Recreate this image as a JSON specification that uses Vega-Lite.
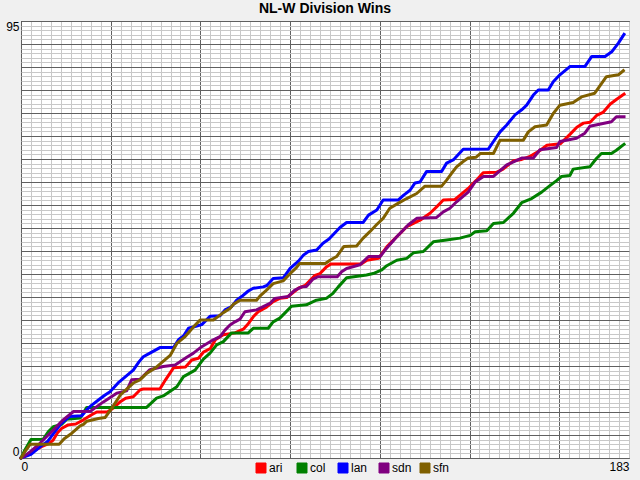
{
  "$schema": "https://vega.github.io/schema/vega-lite/v6.json",
  "width": 608,
  "height": 437,
  "autosize": "none",
  "padding": {"left": 21, "top": 21, "right": 11, "bottom": 22},
  "background": "#f0f0f0",
  "title": {"text": "NL-W Division Wins", "fontSize": 14, "font": "Liberation Sans", "fontWeight": "bold", "color": "#000000", "offset": 4, "anchor": "middle"},
  "data": {
    "values": [
      {"team": "ari", "day": 0, "wins": 0}, {"team": "ari", "day": 3, "wins": 1.2}, {"team": "ari", "day": 6, "wins": 2.4}, {"team": "ari", "day": 8.5, "wins": 3.2}, {"team": "ari", "day": 9.7, "wins": 3.9}, {"team": "ari", "day": 11, "wins": 5.5}, {"team": "ari", "day": 12.2, "wins": 6.4}, {"team": "ari", "day": 14.2, "wins": 7.2}, {"team": "ari", "day": 16.5, "wins": 7.4}, {"team": "ari", "day": 18.8, "wins": 8.3}, {"team": "ari", "day": 21, "wins": 9.3}, {"team": "ari", "day": 22.8, "wins": 10}, {"team": "ari", "day": 26, "wins": 10}, {"team": "ari", "day": 28, "wins": 11}, {"team": "ari", "day": 30, "wins": 12.3}, {"team": "ari", "day": 31.5, "wins": 13}, {"team": "ari", "day": 33.8, "wins": 13.3}, {"team": "ari", "day": 35.8, "wins": 14.8}, {"team": "ari", "day": 36.8, "wins": 15}, {"team": "ari", "day": 41.8, "wins": 15}, {"team": "ari", "day": 43.5, "wins": 17}, {"team": "ari", "day": 45.9, "wins": 19.6}, {"team": "ari", "day": 49.5, "wins": 19.8}, {"team": "ari", "day": 51.4, "wins": 21.3}, {"team": "ari", "day": 53.4, "wins": 21.7}, {"team": "ari", "day": 54.9, "wins": 23}, {"team": "ari", "day": 57, "wins": 23.8}, {"team": "ari", "day": 58.5, "wins": 25.7}, {"team": "ari", "day": 60.9, "wins": 26.8}, {"team": "ari", "day": 64.4, "wins": 27.2}, {"team": "ari", "day": 66.9, "wins": 28}, {"team": "ari", "day": 68.4, "wins": 29.2}, {"team": "ari", "day": 69.9, "wins": 30.7}, {"team": "ari", "day": 71.4, "wins": 31.8}, {"team": "ari", "day": 73.9, "wins": 32.8}, {"team": "ari", "day": 75.9, "wins": 34}, {"team": "ari", "day": 77.9, "wins": 34.7}, {"team": "ari", "day": 80, "wins": 34.9}, {"team": "ari", "day": 83.5, "wins": 36.9}, {"team": "ari", "day": 85.5, "wins": 37.5}, {"team": "ari", "day": 88.5, "wins": 39.7}, {"team": "ari", "day": 90, "wins": 40.1}, {"team": "ari", "day": 92, "wins": 41.6}, {"team": "ari", "day": 93.3, "wins": 42.2}, {"team": "ari", "day": 102.5, "wins": 42.2}, {"team": "ari", "day": 104.1, "wins": 43}, {"team": "ari", "day": 107.6, "wins": 43.4}, {"team": "ari", "day": 110.1, "wins": 45.9}, {"team": "ari", "day": 112.1, "wins": 47.4}, {"team": "ari", "day": 114.1, "wins": 48.8}, {"team": "ari", "day": 116.1, "wins": 50.3}, {"team": "ari", "day": 118.1, "wins": 51}, {"team": "ari", "day": 120.1, "wins": 51.7}, {"team": "ari", "day": 123.1, "wins": 53.2}, {"team": "ari", "day": 125.1, "wins": 54.6}, {"team": "ari", "day": 127.1, "wins": 56.1}, {"team": "ari", "day": 130.6, "wins": 56.2}, {"team": "ari", "day": 132.1, "wins": 57.1}, {"team": "ari", "day": 134.6, "wins": 58.6}, {"team": "ari", "day": 137.1, "wins": 60.4}, {"team": "ari", "day": 139.1, "wins": 62}, {"team": "ari", "day": 143.1, "wins": 62.1}, {"team": "ari", "day": 145.1, "wins": 62.8}, {"team": "ari", "day": 148.2, "wins": 64.6}, {"team": "ari", "day": 150.7, "wins": 64.9}, {"team": "ari", "day": 153, "wins": 65.5}, {"team": "ari", "day": 156.3, "wins": 66.9}, {"team": "ari", "day": 158.3, "wins": 68}, {"team": "ari", "day": 162.3, "wins": 68.3}, {"team": "ari", "day": 165.3, "wins": 70.4}, {"team": "ari", "day": 167.3, "wins": 71.9}, {"team": "ari", "day": 169.3, "wins": 72.8}, {"team": "ari", "day": 171.3, "wins": 73}, {"team": "ari", "day": 173.3, "wins": 74.5}, {"team": "ari", "day": 175.3, "wins": 75.2}, {"team": "ari", "day": 177.3, "wins": 76.9}, {"team": "ari", "day": 179.3, "wins": 78}, {"team": "ari", "day": 181.5, "wins": 79.1},
      {"team": "col", "day": 0, "wins": 0}, {"team": "col", "day": 1, "wins": 1.5}, {"team": "col", "day": 3, "wins": 4}, {"team": "col", "day": 6.7, "wins": 4.1}, {"team": "col", "day": 8.2, "wins": 5.7}, {"team": "col", "day": 9.7, "wins": 6.8}, {"team": "col", "day": 12.2, "wins": 7.3}, {"team": "col", "day": 13.7, "wins": 8.4}, {"team": "col", "day": 17.8, "wins": 8.7}, {"team": "col", "day": 19.8, "wins": 11}, {"team": "col", "day": 37.8, "wins": 11}, {"team": "col", "day": 40.8, "wins": 13}, {"team": "col", "day": 42.8, "wins": 13.5}, {"team": "col", "day": 46.9, "wins": 15.5}, {"team": "col", "day": 48.9, "wins": 17.7}, {"team": "col", "day": 50.4, "wins": 18.3}, {"team": "col", "day": 52.4, "wins": 19.1}, {"team": "col", "day": 54.9, "wins": 21.5}, {"team": "col", "day": 56.9, "wins": 22.8}, {"team": "col", "day": 58.9, "wins": 24.6}, {"team": "col", "day": 60.9, "wins": 25.3}, {"team": "col", "day": 63.4, "wins": 27.2}, {"team": "col", "day": 68.4, "wins": 27.2}, {"team": "col", "day": 69.9, "wins": 28.2}, {"team": "col", "day": 74.4, "wins": 28.2}, {"team": "col", "day": 75.9, "wins": 29.6}, {"team": "col", "day": 77.9, "wins": 30.4}, {"team": "col", "day": 79.4, "wins": 31.5}, {"team": "col", "day": 81.4, "wins": 33}, {"team": "col", "day": 85.9, "wins": 33.3}, {"team": "col", "day": 88.9, "wins": 34.3}, {"team": "col", "day": 91.9, "wins": 34.7}, {"team": "col", "day": 93.9, "wins": 35.8}, {"team": "col", "day": 95.5, "wins": 37.2}, {"team": "col", "day": 98, "wins": 39.2}, {"team": "col", "day": 104, "wins": 39.8}, {"team": "col", "day": 106, "wins": 40.1}, {"team": "col", "day": 108.6, "wins": 40.9}, {"team": "col", "day": 110.1, "wins": 41.8}, {"team": "col", "day": 113.1, "wins": 43}, {"team": "col", "day": 116.1, "wins": 43.4}, {"team": "col", "day": 118.1, "wins": 44.6}, {"team": "col", "day": 121.1, "wins": 44.9}, {"team": "col", "day": 124.1, "wins": 47}, {"team": "col", "day": 128.1, "wins": 47.4}, {"team": "col", "day": 132.1, "wins": 47.8}, {"team": "col", "day": 135.2, "wins": 48.4}, {"team": "col", "day": 136.7, "wins": 49.2}, {"team": "col", "day": 140.2, "wins": 49.4}, {"team": "col", "day": 142.2, "wins": 51}, {"team": "col", "day": 145.2, "wins": 51.2}, {"team": "col", "day": 148.2, "wins": 53.2}, {"team": "col", "day": 150.7, "wins": 55.5}, {"team": "col", "day": 153.7, "wins": 56.4}, {"team": "col", "day": 156.7, "wins": 57.8}, {"team": "col", "day": 159.2, "wins": 59.2}, {"team": "col", "day": 161.2, "wins": 60.3}, {"team": "col", "day": 162.7, "wins": 61.2}, {"team": "col", "day": 165.2, "wins": 61.4}, {"team": "col", "day": 166.2, "wins": 62.8}, {"team": "col", "day": 171.2, "wins": 63.3}, {"team": "col", "day": 173.2, "wins": 65.1}, {"team": "col", "day": 174.7, "wins": 66.2}, {"team": "col", "day": 177.7, "wins": 66.2}, {"team": "col", "day": 179.2, "wins": 66.9}, {"team": "col", "day": 181.5, "wins": 68.2},
      {"team": "lan", "day": 0, "wins": 0}, {"team": "lan", "day": 3, "wins": 0.8}, {"team": "lan", "day": 6, "wins": 2.6}, {"team": "lan", "day": 8, "wins": 3.6}, {"team": "lan", "day": 10, "wins": 5.5}, {"team": "lan", "day": 12, "wins": 7.4}, {"team": "lan", "day": 14.5, "wins": 9}, {"team": "lan", "day": 18.3, "wins": 9.2}, {"team": "lan", "day": 19.8, "wins": 10.5}, {"team": "lan", "day": 21.3, "wins": 11.5}, {"team": "lan", "day": 23.3, "wins": 12.6}, {"team": "lan", "day": 25.3, "wins": 13.7}, {"team": "lan", "day": 26.8, "wins": 14.4}, {"team": "lan", "day": 29.5, "wins": 16.5}, {"team": "lan", "day": 32.8, "wins": 18.5}, {"team": "lan", "day": 33.8, "wins": 19.1}, {"team": "lan", "day": 35.5, "wins": 20.9}, {"team": "lan", "day": 36.8, "wins": 22}, {"team": "lan", "day": 38.8, "wins": 22.8}, {"team": "lan", "day": 41.8, "wins": 24}, {"team": "lan", "day": 45.9, "wins": 24}, {"team": "lan", "day": 47.4, "wins": 25.7}, {"team": "lan", "day": 49, "wins": 26.6}, {"team": "lan", "day": 50.4, "wins": 28.2}, {"team": "lan", "day": 52.4, "wins": 28.6}, {"team": "lan", "day": 54.4, "wins": 29}, {"team": "lan", "day": 56.9, "wins": 30.8}, {"team": "lan", "day": 59.9, "wins": 30.9}, {"team": "lan", "day": 61.4, "wins": 32.2}, {"team": "lan", "day": 63.4, "wins": 32.9}, {"team": "lan", "day": 64.9, "wins": 34.3}, {"team": "lan", "day": 66.4, "wins": 35.1}, {"team": "lan", "day": 68.4, "wins": 36.3}, {"team": "lan", "day": 69.9, "wins": 36.9}, {"team": "lan", "day": 72.9, "wins": 37.2}, {"team": "lan", "day": 74, "wins": 37.5}, {"team": "lan", "day": 75.9, "wins": 39}, {"team": "lan", "day": 79, "wins": 39.2}, {"team": "lan", "day": 81, "wins": 41.2}, {"team": "lan", "day": 83.5, "wins": 42.8}, {"team": "lan", "day": 85, "wins": 44.1}, {"team": "lan", "day": 86.5, "wins": 44.9}, {"team": "lan", "day": 89, "wins": 45.2}, {"team": "lan", "day": 90.9, "wins": 46.7}, {"team": "lan", "day": 92.7, "wins": 47.6}, {"team": "lan", "day": 94, "wins": 48.6}, {"team": "lan", "day": 96, "wins": 50.1}, {"team": "lan", "day": 98, "wins": 51.2}, {"team": "lan", "day": 103, "wins": 51.2}, {"team": "lan", "day": 104.6, "wins": 52.8}, {"team": "lan", "day": 107.1, "wins": 53.9}, {"team": "lan", "day": 109, "wins": 56.1}, {"team": "lan", "day": 113.6, "wins": 56.1}, {"team": "lan", "day": 115.1, "wins": 57.1}, {"team": "lan", "day": 117.1, "wins": 58.2}, {"team": "lan", "day": 118.6, "wins": 59.8}, {"team": "lan", "day": 120.1, "wins": 60}, {"team": "lan", "day": 122.1, "wins": 62.3}, {"team": "lan", "day": 126.6, "wins": 62.3}, {"team": "lan", "day": 128.1, "wins": 64.1}, {"team": "lan", "day": 130.1, "wins": 64.8}, {"team": "lan", "day": 133.1, "wins": 67.1}, {"team": "lan", "day": 140.7, "wins": 67.2}, {"team": "lan", "day": 142.2, "wins": 68.8}, {"team": "lan", "day": 144.2, "wins": 70.9}, {"team": "lan", "day": 146.2, "wins": 72.4}, {"team": "lan", "day": 148.7, "wins": 74.6}, {"team": "lan", "day": 150.7, "wins": 75.7}, {"team": "lan", "day": 152.2, "wins": 76.7}, {"team": "lan", "day": 154.2, "wins": 78.9}, {"team": "lan", "day": 155.7, "wins": 80}, {"team": "lan", "day": 158.7, "wins": 80}, {"team": "lan", "day": 160.2, "wins": 81.8}, {"team": "lan", "day": 162.2, "wins": 83.3}, {"team": "lan", "day": 165.2, "wins": 85.1}, {"team": "lan", "day": 169.7, "wins": 85.1}, {"team": "lan", "day": 171.8, "wins": 87.3}, {"team": "lan", "day": 175.8, "wins": 87.3}, {"team": "lan", "day": 177.8, "wins": 88.3}, {"team": "lan", "day": 179.8, "wins": 90.2}, {"team": "lan", "day": 181.5, "wins": 92.1},
      {"team": "sdn", "day": 0, "wins": 0}, {"team": "sdn", "day": 1, "wins": 0.4}, {"team": "sdn", "day": 3, "wins": 1.5}, {"team": "sdn", "day": 5.7, "wins": 3.2}, {"team": "sdn", "day": 9.7, "wins": 6.1}, {"team": "sdn", "day": 12.7, "wins": 8.3}, {"team": "sdn", "day": 15.8, "wins": 10.1}, {"team": "sdn", "day": 20.8, "wins": 10.1}, {"team": "sdn", "day": 22.5, "wins": 11}, {"team": "sdn", "day": 24.8, "wins": 12.2}, {"team": "sdn", "day": 28.8, "wins": 14.1}, {"team": "sdn", "day": 31.8, "wins": 14.6}, {"team": "sdn", "day": 33.3, "wins": 17}, {"team": "sdn", "day": 35.8, "wins": 17.1}, {"team": "sdn", "day": 38.8, "wins": 19.2}, {"team": "sdn", "day": 42.8, "wins": 19.9}, {"team": "sdn", "day": 46.4, "wins": 20.2}, {"team": "sdn", "day": 49.9, "wins": 21.9}, {"team": "sdn", "day": 51.9, "wins": 22.8}, {"team": "sdn", "day": 54.4, "wins": 24.2}, {"team": "sdn", "day": 57.9, "wins": 25.7}, {"team": "sdn", "day": 59.9, "wins": 26.4}, {"team": "sdn", "day": 61.4, "wins": 27.8}, {"team": "sdn", "day": 62.9, "wins": 28.9}, {"team": "sdn", "day": 64.4, "wins": 29.6}, {"team": "sdn", "day": 65.9, "wins": 30.2}, {"team": "sdn", "day": 67.4, "wins": 31.8}, {"team": "sdn", "day": 70.9, "wins": 32.2}, {"team": "sdn", "day": 72.9, "wins": 32.9}, {"team": "sdn", "day": 74.9, "wins": 33.6}, {"team": "sdn", "day": 76.4, "wins": 34.7}, {"team": "sdn", "day": 80.4, "wins": 35.1}, {"team": "sdn", "day": 82.4, "wins": 36.5}, {"team": "sdn", "day": 84.5, "wins": 37.2}, {"team": "sdn", "day": 85.9, "wins": 37.3}, {"team": "sdn", "day": 87.9, "wins": 38.9}, {"team": "sdn", "day": 89.4, "wins": 39.4}, {"team": "sdn", "day": 95.2, "wins": 39.4}, {"team": "sdn", "day": 96.5, "wins": 40.5}, {"team": "sdn", "day": 98, "wins": 41.2}, {"team": "sdn", "day": 102, "wins": 42}, {"team": "sdn", "day": 104.6, "wins": 43.8}, {"team": "sdn", "day": 108.1, "wins": 43.8}, {"team": "sdn", "day": 109.6, "wins": 45.2}, {"team": "sdn", "day": 113.1, "wins": 48.1}, {"team": "sdn", "day": 116.6, "wins": 50.7}, {"team": "sdn", "day": 119.1, "wins": 52.1}, {"team": "sdn", "day": 125.1, "wins": 52.3}, {"team": "sdn", "day": 127.1, "wins": 53.5}, {"team": "sdn", "day": 129.1, "wins": 54.3}, {"team": "sdn", "day": 131.1, "wins": 55.7}, {"team": "sdn", "day": 134.6, "wins": 57.8}, {"team": "sdn", "day": 136.7, "wins": 60}, {"team": "sdn", "day": 139.2, "wins": 61.2}, {"team": "sdn", "day": 142.2, "wins": 61.2}, {"team": "sdn", "day": 146.2, "wins": 63.7}, {"team": "sdn", "day": 150.7, "wins": 65.2}, {"team": "sdn", "day": 154.2, "wins": 65.2}, {"team": "sdn", "day": 156.2, "wins": 67}, {"team": "sdn", "day": 161.2, "wins": 67.5}, {"team": "sdn", "day": 162.2, "wins": 68.8}, {"team": "sdn", "day": 167.2, "wins": 69.5}, {"team": "sdn", "day": 169.7, "wins": 70.6}, {"team": "sdn", "day": 171.2, "wins": 72.1}, {"team": "sdn", "day": 177.7, "wins": 73.1}, {"team": "sdn", "day": 179.2, "wins": 74.2}, {"team": "sdn", "day": 181.5, "wins": 74.2},
      {"team": "sfn", "day": 0, "wins": 0}, {"team": "sfn", "day": 1.2, "wins": 1.4}, {"team": "sfn", "day": 2.8, "wins": 3}, {"team": "sfn", "day": 11.5, "wins": 3}, {"team": "sfn", "day": 13, "wins": 4.2}, {"team": "sfn", "day": 15.3, "wins": 5.4}, {"team": "sfn", "day": 17.8, "wins": 7}, {"team": "sfn", "day": 18.8, "wins": 7.3}, {"team": "sfn", "day": 19.8, "wins": 8}, {"team": "sfn", "day": 23.3, "wins": 8.6}, {"team": "sfn", "day": 25.3, "wins": 8.8}, {"team": "sfn", "day": 27.3, "wins": 10.8}, {"team": "sfn", "day": 30, "wins": 13.8}, {"team": "sfn", "day": 33.8, "wins": 16.3}, {"team": "sfn", "day": 35.8, "wins": 17}, {"team": "sfn", "day": 37.8, "wins": 18.4}, {"team": "sfn", "day": 40.3, "wins": 19.5}, {"team": "sfn", "day": 41.8, "wins": 20.4}, {"team": "sfn", "day": 44.9, "wins": 22.3}, {"team": "sfn", "day": 46.9, "wins": 24.9}, {"team": "sfn", "day": 49.4, "wins": 26.4}, {"team": "sfn", "day": 51.9, "wins": 28.5}, {"team": "sfn", "day": 53.9, "wins": 30}, {"team": "sfn", "day": 57.9, "wins": 30}, {"team": "sfn", "day": 60.9, "wins": 31.6}, {"team": "sfn", "day": 62.9, "wins": 32.5}, {"team": "sfn", "day": 63.9, "wins": 33.4}, {"team": "sfn", "day": 65.9, "wins": 34.3}, {"team": "sfn", "day": 70.9, "wins": 34.3}, {"team": "sfn", "day": 71.9, "wins": 35.2}, {"team": "sfn", "day": 73.9, "wins": 36.5}, {"team": "sfn", "day": 75.9, "wins": 37.9}, {"team": "sfn", "day": 78.9, "wins": 38.5}, {"team": "sfn", "day": 80.9, "wins": 40}, {"team": "sfn", "day": 82.9, "wins": 41.4}, {"team": "sfn", "day": 83.9, "wins": 42.3}, {"team": "sfn", "day": 91.6, "wins": 42.3}, {"team": "sfn", "day": 93, "wins": 43}, {"team": "sfn", "day": 95, "wins": 43.8}, {"team": "sfn", "day": 97.2, "wins": 46}, {"team": "sfn", "day": 101, "wins": 46.1}, {"team": "sfn", "day": 103, "wins": 47.8}, {"team": "sfn", "day": 105, "wins": 49.2}, {"team": "sfn", "day": 107, "wins": 50.7}, {"team": "sfn", "day": 109, "wins": 52.1}, {"team": "sfn", "day": 111, "wins": 54.3}, {"team": "sfn", "day": 113.6, "wins": 55.4}, {"team": "sfn", "day": 116.1, "wins": 56.4}, {"team": "sfn", "day": 119.1, "wins": 57.5}, {"team": "sfn", "day": 121.6, "wins": 59.1}, {"team": "sfn", "day": 126.6, "wins": 59.1}, {"team": "sfn", "day": 128.1, "wins": 60.4}, {"team": "sfn", "day": 129.6, "wins": 61.9}, {"team": "sfn", "day": 131.1, "wins": 63.3}, {"team": "sfn", "day": 133, "wins": 64.4}, {"team": "sfn", "day": 134.6, "wins": 65.2}, {"team": "sfn", "day": 137, "wins": 65.4}, {"team": "sfn", "day": 138.3, "wins": 66.2}, {"team": "sfn", "day": 142.2, "wins": 66.2}, {"team": "sfn", "day": 144.2, "wins": 69.1}, {"team": "sfn", "day": 151.2, "wins": 69.1}, {"team": "sfn", "day": 152.7, "wins": 70.9}, {"team": "sfn", "day": 154.7, "wins": 72}, {"team": "sfn", "day": 158.2, "wins": 72.4}, {"team": "sfn", "day": 160.2, "wins": 74.9}, {"team": "sfn", "day": 162.2, "wins": 76.7}, {"team": "sfn", "day": 166.2, "wins": 77.3}, {"team": "sfn", "day": 168.7, "wins": 78.5}, {"team": "sfn", "day": 172.7, "wins": 79.3}, {"team": "sfn", "day": 176.2, "wins": 82.9}, {"team": "sfn", "day": 179.8, "wins": 83.3}, {"team": "sfn", "day": 181.3, "wins": 84.2}
    ]
  },
  "mark": {"type": "line", "strokeWidth": 3, "strokeJoin": "round", "strokeCap": "square"},
  "encoding": {
    "x": {
      "field": "day",
      "type": "quantitative",
      "scale": {"domain": [0, 183], "nice": false, "zero": false},
      "axis": {
        "title": null,
        "values": [0, 3, 6, 9, 12, 15, 18, 21, 24, 27, 30, 33, 36, 39, 42, 45, 48, 51, 54, 57, 60, 63, 66, 69, 72, 75, 78, 81, 84, 87, 90, 93, 96, 99, 102, 105, 108, 111, 114, 117, 120, 123, 126, 129, 132, 135, 138, 141, 144, 147, 150, 153, 156, 159, 162, 165, 168, 171, 174, 177, 180, 183],
        "domain": false,
        "ticks": false,
        "labelPadding": 3,
        "labelFontSize": 12,
        "labelColor": "#000000",
        "labelFlush": true,
        "labelOverlap": false,
        "labelExpr": "datum.value == 0 || datum.value == 183 ? datum.label : ''",
        "grid": true,
        "gridOpacity": 1,
        "gridWidth": 1,
        "gridColor": {"condition": {"test": "datum.value % 27 === 0", "value": "#606060"}, "value": "#c8c8c8"}
      }
    },
    "y": {
      "field": "wins",
      "type": "quantitative",
      "scale": {"domain": [0, 95], "nice": false},
      "axis": {
        "title": null,
        "values": [0, 1, 2, 3, 4, 5, 6, 7, 8, 9, 10, 11, 12, 13, 14, 15, 16, 17, 18, 19, 20, 21, 22, 23, 24, 25, 26, 27, 28, 29, 30, 31, 32, 33, 34, 35, 36, 37, 38, 39, 40, 41, 42, 43, 44, 45, 46, 47, 48, 49, 50, 51, 52, 53, 54, 55, 56, 57, 58, 59, 60, 61, 62, 63, 64, 65, 66, 67, 68, 69, 70, 71, 72, 73, 74, 75, 76, 77, 78, 79, 80, 81, 82, 83, 84, 85, 86, 87, 88, 89, 90, 91, 92, 93, 94, 95],
        "domain": false,
        "ticks": false,
        "labelPadding": 2,
        "labelFontSize": 12,
        "labelColor": "#000000",
        "labelFlush": true,
        "labelOverlap": false,
        "labelExpr": "datum.value == 0 || datum.value == 95 ? datum.label : ''",
        "grid": true,
        "gridOpacity": 1,
        "gridWidth": 1,
        "gridColor": {"condition": {"test": "datum.value % 5 === 0", "value": "#606060"}, "value": "#c8c8c8"}
      }
    },
    "color": {
      "field": "team",
      "type": "nominal",
      "scale": {"domain": ["ari", "col", "lan", "sdn", "sfn"], "range": ["#ff0000", "#008000", "#0000ff", "#800080", "#806000"]},
      "legend": {
        "title": null,
        "orient": "none",
        "legendX": 234,
        "legendY": 441,
        "direction": "horizontal",
        "columns": 5,
        "gridAlign": "all",
        "columnPadding": 6,
        "padding": 0,
        "labelFontSize": 12,
        "labelOffset": 2,
        "labelColor": "#000000",
        "symbolType": "square",
        "symbolSize": 100,
        "encode": {
          "symbols": {
            "update": {
              "fill": {"scale": "color", "field": "value"},
              "stroke": {"value": "#000000"},
              "strokeWidth": {"value": 1},
              "opacity": {"value": 1}
            }
          }
        }
      }
    }
  },
  "config": {
    "font": "Liberation Sans",
    "view": {"fill": "#ffffff", "stroke": "#000000", "strokeWidth": 1}
  }
}
